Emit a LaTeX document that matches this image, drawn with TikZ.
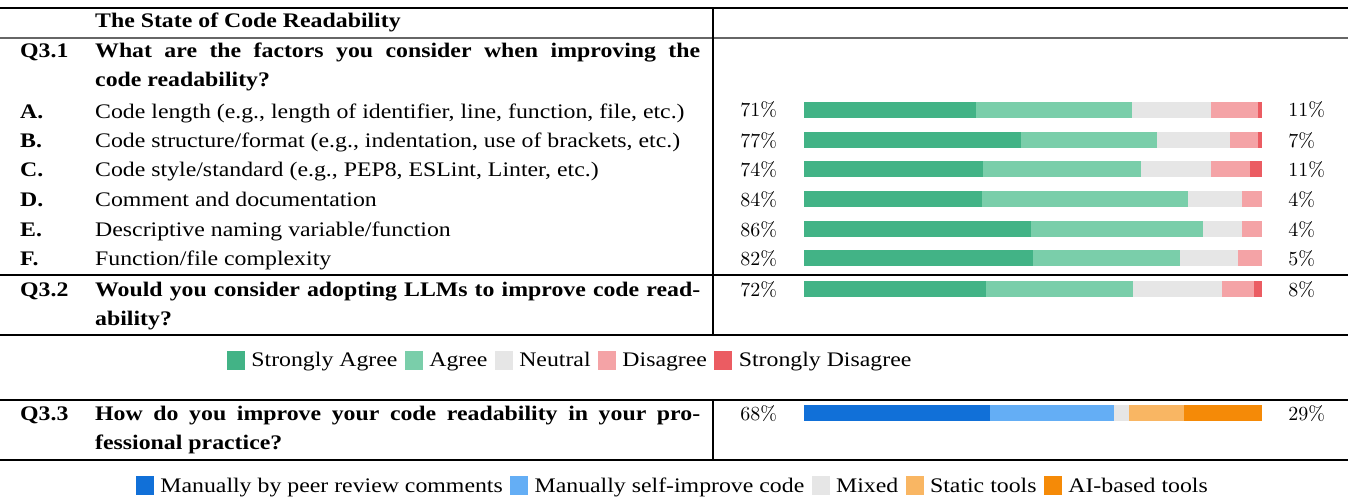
\documentclass[tikz,border=0pt]{standalone}
\usepackage{fontspec}
\usepackage{xcolor}
\usetikzlibrary{positioning}
\newfontfamily\txtfont[FakeStretch=1.15]{Liberation Serif}

\definecolor{sagree}{HTML}{42B386}
\definecolor{agree}{HTML}{7ACEAA}
\definecolor{neutral}{HTML}{E6E6E6}
\definecolor{disagree}{HTML}{F4A3A6}
\definecolor{sdisagree}{HTML}{EB5C62}
\definecolor{peerblue}{HTML}{1170D8}
\definecolor{selfblue}{HTML}{64AEF5}
\definecolor{statictool}{HTML}{F9B663}
\definecolor{aitool}{HTML}{F58A07}

\begin{document}
\begin{tikzpicture}[x=1pt, y=-1pt,
  txt/.style={anchor=base west, inner sep=0pt, font=\txtfont\fontsize{20.7}{24}\selectfont},
  qtxt/.style={txt, font=\txtfont\bfseries\fontsize{20.7}{24}\selectfont},
  pct/.style={anchor=base west, inner sep=0pt, font=\fontsize{10}{12}\selectfont, scale=2, transform shape},
  key/.style={minimum width=18pt, minimum height=19pt, inner sep=0pt},
  lgd/.style={anchor=west, inner sep=0pt, text height=13.6pt, text depth=0pt, font=\txtfont\fontsize{20.7}{24}\selectfont},
  toprule/.style={line width=1.6pt},
  midrule/.style={line width=1.1pt}]
\useasboundingbox (0,0) rectangle (1348,500);

% Table rules
\draw[toprule] (0,8) -- (1348,8);
\draw[midrule, black!60] (0,38) -- (1348,38);
\draw[midrule] (0,275) -- (1348,275);
\draw[toprule] (0,335) -- (1348,335);
\draw[midrule] (713,8) -- (713,335);

% Header
\node[qtxt] (title) at (95,28) {The State of Code Readability};
\node[qtxt] (q31) at (20,58) {Q3.1};
\node[qtxt] (q31a) at (95,58) {\hbox to 605pt{What are the factors you consider when improving the}};
\node[qtxt] (q31b) at (95,87) {code readability?};

% Factors
\node[qtxt] (labA) at (20,118) {A.};
\node[txt] (txtA) at (95,118) {Code length (e.g., length of identifier, line, function, file, etc.)};
\node[qtxt] (labB) at (20,147) {B.};
\node[txt] (txtB) at (95,147) {Code structure/format (e.g., indentation, use of brackets, etc.)};
\node[qtxt] (labC) at (20,176) {C.};
\node[txt] (txtC) at (95,176) {Code style/standard (e.g., PEP8, ESLint, Linter, etc.)};
\node[qtxt] (labD) at (20,206) {D.};
\node[txt] (txtD) at (95,206) {Comment and documentation};
\node[qtxt] (labE) at (20,236) {E.};
\node[txt] (txtE) at (95,236) {Descriptive naming variable/function};
\node[qtxt] (labF) at (20,265) {F.};
\node[txt] (txtF) at (95,265) {Function/file complexity};

% Adoption of LLMs
\node[qtxt] (q32) at (20,296) {Q3.2};
\node[qtxt] (q32a) at (95,296) {\hbox to 605pt{Would you consider adopting LLMs to improve code read-}};
\node[qtxt] (q32b) at (95,325) {ability?};

% Percentages
\node[pct] (lpA) at (740,117) {71\%};  \node[pct] (rpA) at (1288,117) {11\%};
\node[pct] (lpB) at (740,147) {77\%};  \node[pct] (rpB) at (1288,147) {7\%};
\node[pct] (lpC) at (740,176) {74\%};  \node[pct] (rpC) at (1288,176) {11\%};
\node[pct] (lpD) at (740,206) {84\%};  \node[pct] (rpD) at (1288,206) {4\%};
\node[pct] (lpE) at (740,236) {86\%};  \node[pct] (rpE) at (1288,236) {4\%};
\node[pct] (lpF) at (740,265) {82\%};  \node[pct] (rpF) at (1288,265) {5\%};
\node[pct] (lpG) at (740,296) {72\%};  \node[pct] (rpG) at (1288,296) {8\%};

% Bars A
\fill[sagree] (804,102) rectangle (976,118);
\fill[agree] (976,102) rectangle (1132,118);
\fill[neutral] (1132,102) rectangle (1211,118);
\fill[disagree] (1211,102) rectangle (1258,118);
\fill[sdisagree] (1258,102) rectangle (1262,118);
% Bars B
\fill[sagree] (804,132) rectangle (1021,148);
\fill[agree] (1021,132) rectangle (1157,148);
\fill[neutral] (1157,132) rectangle (1230,148);
\fill[disagree] (1230,132) rectangle (1258,148);
\fill[sdisagree] (1258,132) rectangle (1262,148);
% Bars C
\fill[sagree] (804,161) rectangle (983,177);
\fill[agree] (983,161) rectangle (1141,177);
\fill[neutral] (1141,161) rectangle (1211,177);
\fill[disagree] (1211,161) rectangle (1250,177);
\fill[sdisagree] (1250,161) rectangle (1262,177);
% Bars D
\fill[sagree] (804,191) rectangle (982,207);
\fill[agree] (982,191) rectangle (1188,207);
\fill[neutral] (1188,191) rectangle (1242,207);
\fill[disagree] (1242,191) rectangle (1262,207);
% Bars E
\fill[sagree] (804,221) rectangle (1031,237);
\fill[agree] (1031,221) rectangle (1203,237);
\fill[neutral] (1203,221) rectangle (1242,237);
\fill[disagree] (1242,221) rectangle (1262,237);
% Bars F
\fill[sagree] (804,250) rectangle (1033,266);
\fill[agree] (1033,250) rectangle (1180,266);
\fill[neutral] (1180,250) rectangle (1238,266);
\fill[disagree] (1238,250) rectangle (1262,266);
% Bars Q3.2
\fill[sagree] (804,281) rectangle (986,297);
\fill[agree] (986,281) rectangle (1133,297);
\fill[neutral] (1133,281) rectangle (1222,297);
\fill[disagree] (1222,281) rectangle (1254,297);
\fill[sdisagree] (1254,281) rectangle (1262,297);

% Agreement legend
\node[key, fill=sagree] (k1) at (236,360) {};
\node[lgd, right=6pt of k1] (l1) {Strongly Agree};
\node[key, fill=agree, right=7pt of l1] (k2) {};
\node[lgd, right=6pt of k2] (l2) {Agree};
\node[key, fill=neutral, right=7pt of l2] (k3) {};
\node[lgd, right=6pt of k3] (l3) {Neutral};
\node[key, fill=disagree, right=7pt of l3] (k4) {};
\node[lgd, right=6pt of k4] (l4) {Disagree};
\node[key, fill=sdisagree, right=7pt of l4] (k5) {};
\node[lgd, right=6pt of k5] (l5) {Strongly Disagree};

% Practice table
\draw[midrule] (0,400) -- (1348,400);
\draw[midrule] (0,460) -- (1348,460);
\draw[midrule] (713,400) -- (713,460);
\node[qtxt] (q33) at (20,420) {Q3.3};
\node[qtxt] (q33a) at (95,420) {\hbox to 605pt{How do you improve your code readability in your pro-}};
\node[qtxt] (q33b) at (95,449) {fessional practice?};
\node[pct] (lpH) at (740,420) {68\%};  \node[pct] (rpH) at (1288,420) {29\%};
\fill[peerblue] (804,405) rectangle (990,421);
\fill[selfblue] (990,405) rectangle (1114,421);
\fill[neutral] (1114,405) rectangle (1129,421);
\fill[statictool] (1129,405) rectangle (1184,421);
\fill[aitool] (1184,405) rectangle (1262,421);

% Practice legend
\node[key, fill=peerblue] (m1) at (145,485.5) {};
\node[lgd, right=6pt of m1] (n1) {Manually by peer review comments};
\node[key, fill=selfblue, right=7pt of n1] (m2) {};
\node[lgd, right=6pt of m2] (n2) {Manually self-improve code};
\node[key, fill=neutral, right=7pt of n2] (m3) {};
\node[lgd, right=6pt of m3] (n3) {Mixed};
\node[key, fill=statictool, right=7pt of n3] (m4) {};
\node[lgd, right=6pt of m4] (n4) {Static tools};
\node[key, fill=aitool, right=7pt of n4] (m5) {};
\node[lgd, right=6pt of m5] (n5) {AI-based tools};
\end{tikzpicture}
\end{document}
